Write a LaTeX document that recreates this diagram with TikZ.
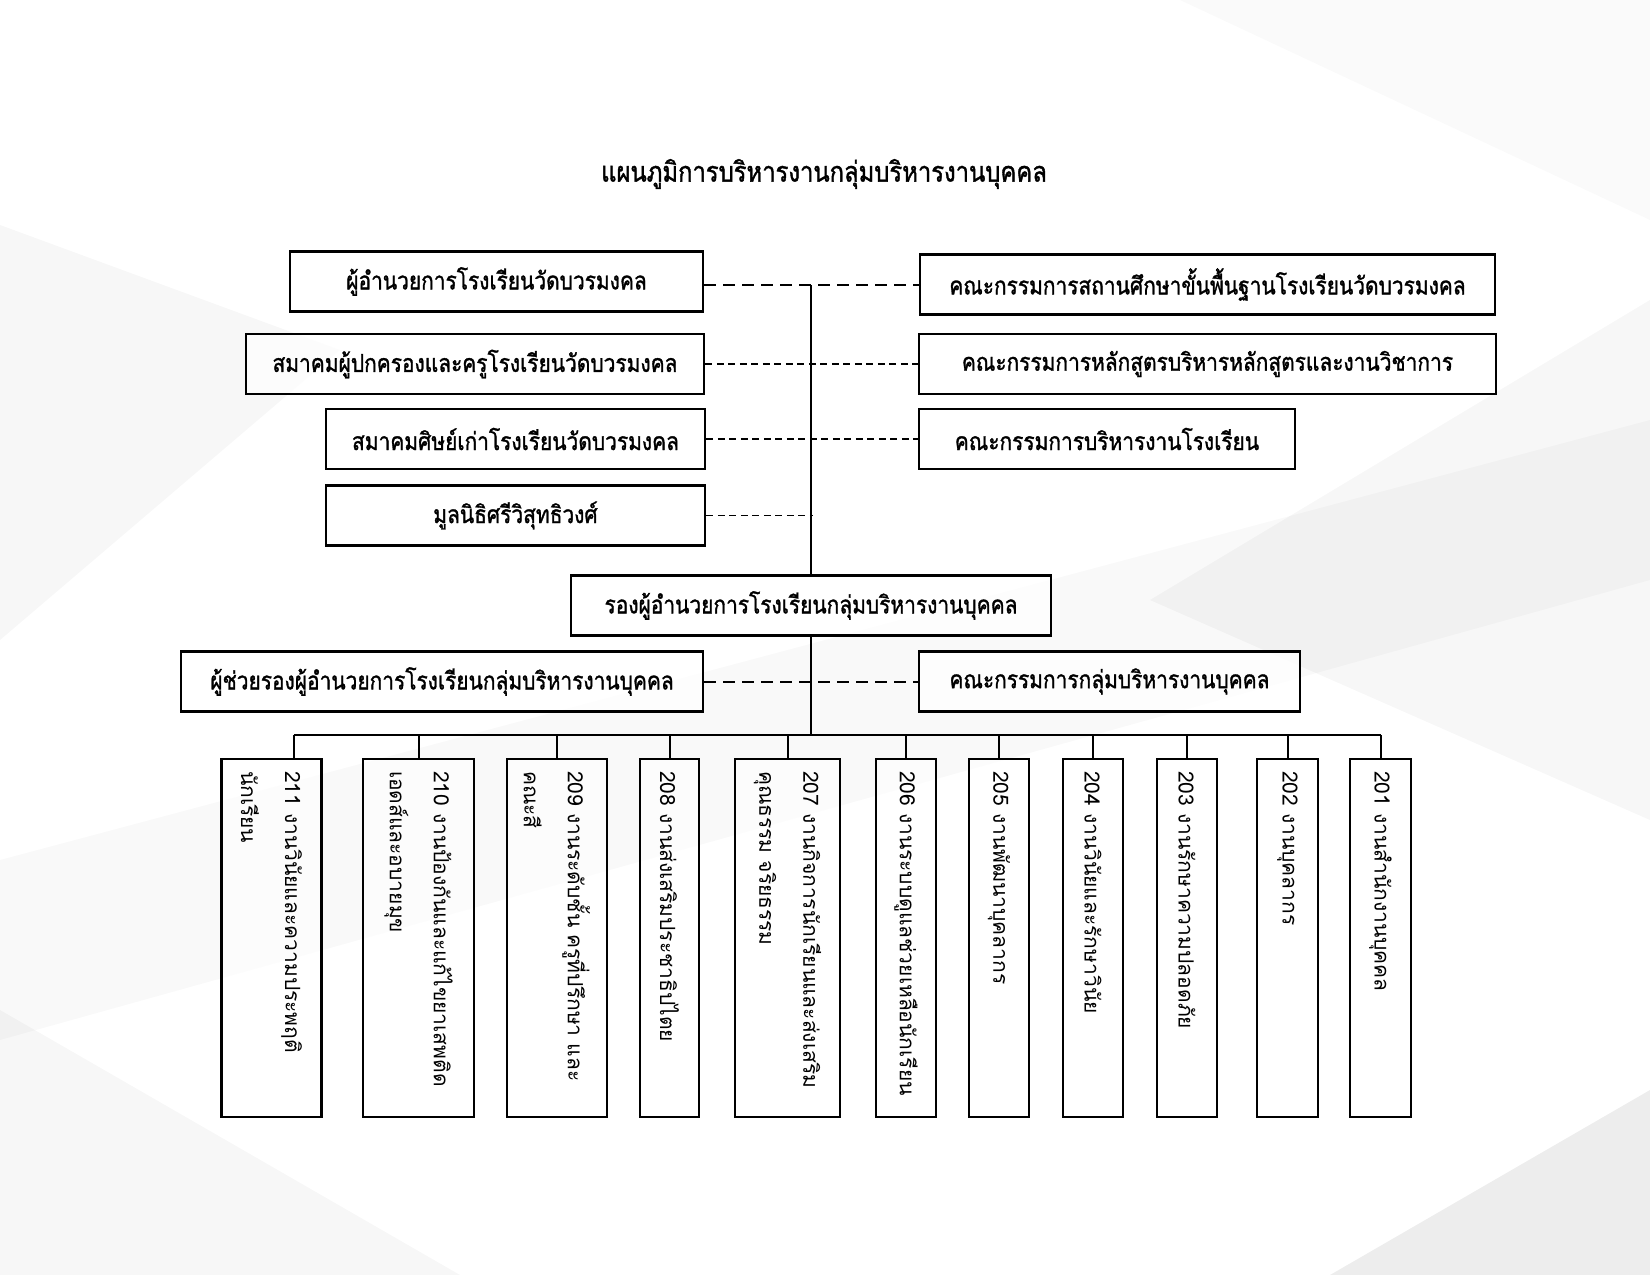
\documentclass[tikz,border=0pt]{standalone}
\usepackage{fontspec}
\setmainfont[Script=Thai,FakeStretch=0.85,FakeBold=1.3]{Loma}
\newfontfamily\vertfont[Script=Thai]{Loma}

\begin{document}
\begin{tikzpicture}[x=1pt,y=-1pt,
	box/.style={draw,line width=2.5pt,fill=white,fill opacity=0.75,text opacity=1,minimum height=60pt,inner sep=0pt,font=\fontsize{24.6}{29}\selectfont},
	vbox/.style={draw,line width=2.2pt,fill=white,fill opacity=0.6,text opacity=1,rotate=-90,minimum width=358pt,text width=334pt,align=left,inner xsep=12pt,inner ysep=0pt,font=\vertfont\fontsize{21}{44}\selectfont},
	wire/.style={line width=2pt},
	longdash/.style={line width=2pt,dash pattern=on 12pt off 7pt},
	shortdash/.style={line width=1.6pt,dash pattern=on 7pt off 4.5pt},
	facet/.style={fill=black,fill opacity=0.03,draw=none}]

	% background
	\fill[white] (0,0) rectangle (1650,1275);
	\fill[facet] (0,225) -- (340,350) -- (0,640) -- cycle;
	\fill[facet] (1650,300) -- (1150,600) -- (1650,820) -- cycle;
	\fill[facet,fill opacity=0.025] (0,860) -- (1650,420) -- (1650,580) -- (0,1040) -- cycle;
	\fill[facet,fill opacity=0.07] (1330,1275) -- (1650,1090) -- (1650,1275) -- cycle;
	\fill[facet,fill opacity=0.03] (0,1010) -- (460,1275) -- (0,1275) -- cycle;
	\fill[facet,fill opacity=0.02] (1180,0) -- (1650,0) -- (1650,220) -- cycle;

	\node[font=\fontsize{28}{32}\selectfont] (title) at (824,174) {แผนภูมิการบริหารงานกลุ่มบริหารงานบุคคล};

	% upper rows
	\node[box,minimum width=413pt] (L1) at (496.5,281.5) {ผู้อำนวยการโรงเรียนวัดบวรมงคล};
	\node[box,minimum width=458pt] (L2) at (475,364) {สมาคมผู้ปกครองและครูโรงเรียนวัดบวรมงคล};
	\node[box,minimum width=379pt] (L3) at (515.5,439) {สมาคมศิษย์เก่าโรงเรียนวัดบวรมงคล};
	\node[box,minimum width=379pt] (L4) at (515.5,515.5) {มูลนิธิศรีวิสุทธิวงศ์};

	\node[box,minimum width=575pt] (R1) at (1207.5,284.5) {คณะกรรมการสถานศึกษาขั้นพื้นฐานโรงเรียนวัดบวรมงคล};
	\node[box,minimum width=577pt] (R2) at (1207.5,364) {คณะกรรมการหลักสูตรบริหารหลักสูตรและงานวิชาการ};
	\node[box,minimum width=376pt] (R3) at (1107,439) {คณะกรรมการบริหารงานโรงเรียน};

	\node[box,minimum width=480pt] (C) at (811,605.5) {รองผู้อำนวยการโรงเรียนกลุ่มบริหารงานบุคคล};
	\node[box,minimum width=522pt] (A) at (442,681.5) {ผู้ช่วยรองผู้อำนวยการโรงเรียนกลุ่มบริหารงานบุคคล};
	\node[box,minimum width=381pt] (K) at (1109.5,681.5) {คณะกรรมการกลุ่มบริหารงานบุคคล};

	\draw[longdash] (L1.east |- R1.west) -- (R1.west);
	\draw[shortdash] (L2.east) -- (R2.west);
	\draw[shortdash] (L3.east) -- (R3.west);
	\draw[shortdash] (L4.east) -- ([xshift=2pt]L4.east -| C.north);
	\draw[wire] (C.north) -- (C.north |- R1.west);
	\draw[longdash] (A.east) -- (K.west);

	% work units
	\def\unittop{938}
	\foreach \n/\x/\w/\txt in {
		211/271.5/100/{211 งานวินัยและความประพฤติ\\นักเรียน},
		210/418.5/111/{210 งานป้องกันและแก้ไขยาเสพติด\\เอดส์และอบายมุข},
		209/557/100/{209 งานระดับชั้น ครูที่ปรึกษา และ\\คณะสี},
		208/669.5/59/{208 งานส่งเสริมประชาธิปไตย},
		207/787.5/105/{207 งานกิจการนักเรียนและส่งเสริม\\คุณธรรม จริยธรรม},
		206/906/60/{206 งานระบบดูแลช่วยเหลือนักเรียน},
		205/999/60/{205 งานพัฒนาบุคลากร},
		204/1093/60/{204 งานวินัยและรักษาวินัย},
		203/1187/60/{203 งานรักษาความปลอดภัย},
		202/1287.5/61/{202 งานบุคลากร},
		201/1380.5/61/{201 งานสำนักงานบุคคล}}
	{
		\node[vbox,minimum height=\w pt] (b\n) at (\x,\unittop) {\txt};
	}

	\coordinate (j211) at (294,735);
	\draw[wire] (C.south) -- (C.south |- j211);
	\draw[wire] (j211) -- (b201.west |- j211);
	\draw[wire] (j211) -- (j211 |- b211.west);
	\foreach \n in {210,209,208,207,206,205,204,203,202,201}
	{
		\draw[wire] (b\n.west) -- (b\n.west |- j211);
	}
\end{tikzpicture}
\end{document}
